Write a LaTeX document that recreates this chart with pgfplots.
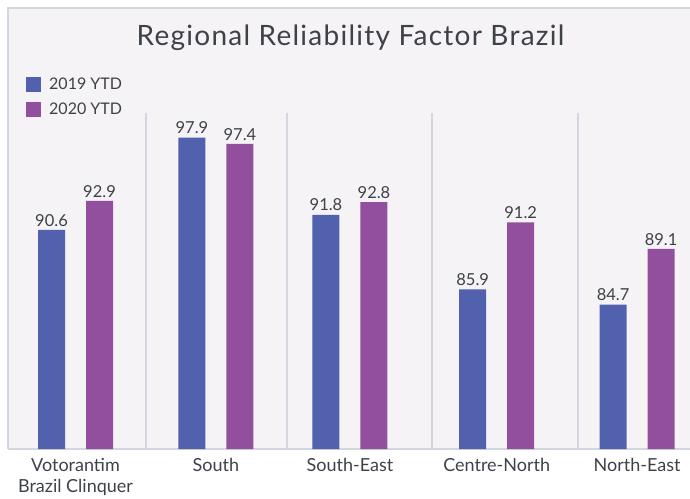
\documentclass[border=0pt]{standalone}
\usepackage{fontspec}
\setmainfont{Lato}
\newfontfamily\titlefont[LetterSpace=4.5]{Lato}
\usepackage{pgfplots}
\pgfplotsset{compat=1.18}
\usepackage{pgfplotstable}

\definecolor{blueA}{HTML}{5261AE}
\definecolor{purpA}{HTML}{924F9E}
\definecolor{txt}{HTML}{3D4148}
\definecolor{panel}{HTML}{F5F3F5}
\definecolor{rule}{HTML}{D3D6DE}

% x = group position, values as labelled
\pgfplotstableread{
x     y2019 y2020
0     90.6  92.9
1     97.9  97.4
1.955 91.8  92.8
3     85.9  91.2
4     84.7  89.1
}\datatab

\begin{document}
\begin{tikzpicture}[x=1pt,y=1pt]
\useasboundingbox (0,0) rectangle (690,498);
% panel
\fill[panel] (8,49) rectangle (690,490);
\draw[rule,line width=1.2pt] (8,49) -- (8,490) -- (690,490);
% title
\node[anchor=base,text=txt,font=\titlefont\fontsize{28}{32}\selectfont] at (350.5,452) {Regional Reliability Factor Brazil};

\begin{axis}[
  at={(8pt,49pt)}, anchor=south west,
  scale only axis, width=682pt, height=336pt,
  xmin=-0.481, xmax=4.377, ymin=73.3, ymax=99.84,
  ybar, bar width=27pt,
  axis x line*=bottom, axis y line=none,
  x axis line style={draw=rule,line width=2pt,-},
  xtick={0,1,1.955,3,4},
  xticklabels={{Votorantim\\Brazil Clinquer},South,South-East,Centre-North,North-East},
  xticklabel style={font=\fontsize{18}{21}\selectfont,text=txt,align=center,inner sep=0pt,anchor=north,yshift=-9pt},
  major tick length=0pt,
  extra x ticks={0.502,1.506,2.539,3.579},
  extra x tick labels={},
  extra x tick style={grid=major,major grid style={draw=rule,line width=1.5pt}},
  nodes near coords,
  nodes near coords style={/pgf/number format/fixed,/pgf/number format/fixed zerofill,/pgf/number format/precision=1,/pgf/number format/assume math mode=true},
  every node near coord/.append style={font=\fontsize{16.5}{18}\selectfont,text=txt,inner sep=0pt,anchor=south,yshift=3.5pt},
  legend image code/.code={\fill[#1,draw=none] (0pt,-7.5pt) rectangle (15pt,7.5pt); \path (23pt,0pt);},
  legend style={at={(axis description cs:0,1)},anchor=north west,xshift=18pt,yshift=36pt,
    draw=none,fill=none,inner sep=0pt,row sep=10pt,font=\fontsize{16}{19}\selectfont,text=txt,
    nodes={inner sep=0pt,text height=12pt,text depth=3pt}},
  legend cell align=left,
]
\addplot[fill=blueA,draw=none,bar shift=-24pt] table[x=x,y=y2019] {\datatab};
\addlegendentry{2019 YTD}
\addplot[fill=purpA,draw=none,bar shift=24pt] table[x=x,y=y2020] {\datatab};
\addlegendentry{2020 YTD}
\end{axis}
\end{tikzpicture}
\end{document}
